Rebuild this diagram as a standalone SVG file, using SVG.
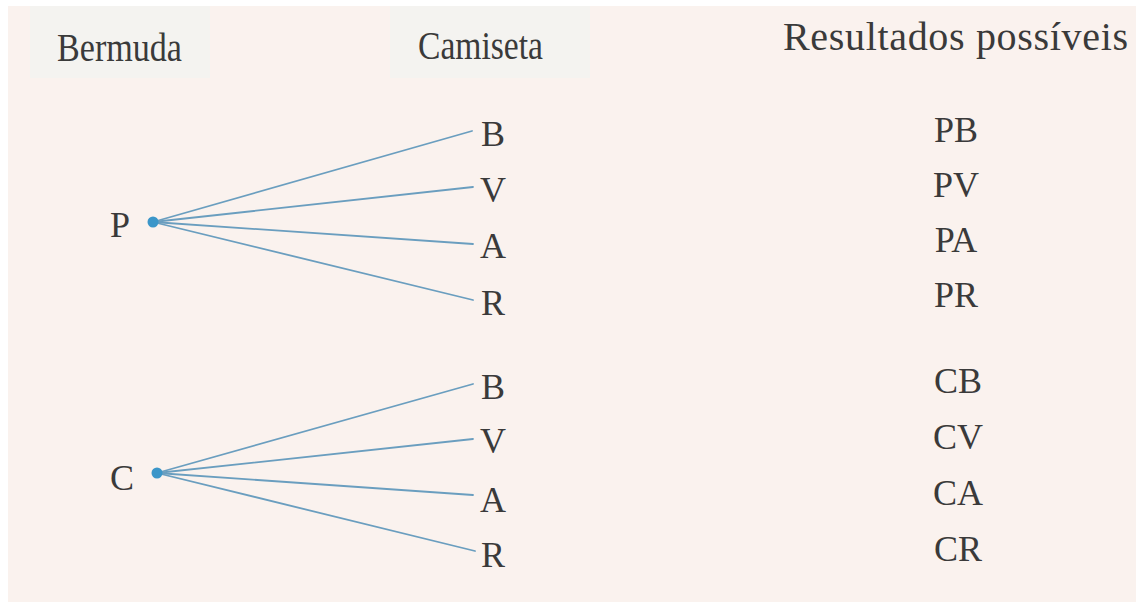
<svg xmlns="http://www.w3.org/2000/svg" width="1136" height="602" viewBox="0 0 1136 602">
  <style>
    .lbl { font-family: "Liberation Serif", "DejaVu Serif", serif; fill: #3a3a3a; }
    .head { font-size: 40px; }
    .leaf { font-size: 36px; }
    .res { font-size: 36px; text-anchor: middle; }
    .branch { stroke: #6a9ebf; stroke-width: 1.8; fill: none; stroke-linecap: round; }
    .dot { fill: #3b96c9; }
  </style>

  <!-- paper -->
  <rect x="0" y="0" width="1136" height="602" fill="#ffffff"/>
  <rect x="8" y="6" width="1128" height="596" fill="#faf2ee"/>
  <rect x="30" y="6" width="180" height="72" fill="#f2f3f0" opacity="0.75"/>
  <rect x="390" y="6" width="200" height="72" fill="#f2f3f0" opacity="0.75"/>

  <!-- column headings -->
  <g id="headings">
    <text class="lbl head" x="57" y="61" textLength="125" lengthAdjust="spacingAndGlyphs">Bermuda</text>
    <text class="lbl head" x="418" y="59" textLength="125" lengthAdjust="spacingAndGlyphs">Camiseta</text>
    <text class="lbl head" x="783" y="50" font-size="38" textLength="345" lengthAdjust="spacing">Resultados possíveis</text>
  </g>

  <!-- branches -->
  <g id="connectors">
    <line class="branch" x1="153" y1="222" x2="472" y2="131"/>
    <line class="branch" x1="153" y1="222" x2="473" y2="187"/>
    <line class="branch" x1="153" y1="222" x2="473" y2="244"/>
    <line class="branch" x1="153" y1="222" x2="473" y2="300"/>
    <line class="branch" x1="157" y1="473" x2="473" y2="384"/>
    <line class="branch" x1="157" y1="473" x2="473" y2="439"/>
    <line class="branch" x1="157" y1="473" x2="473" y2="495"/>
    <line class="branch" x1="157" y1="473" x2="475" y2="551"/>
  </g>

  <!-- first choice: P -->
  <g id="node-P">
    <text class="lbl leaf" x="110" y="237">P</text>
    <circle class="dot" cx="153" cy="222" r="5.5"/>
  </g>
  <g id="node-P-B"><text class="lbl leaf" x="481" y="146">B</text></g>
  <g id="node-P-V"><text class="lbl leaf" x="480" y="202">V</text></g>
  <g id="node-P-A"><text class="lbl leaf" x="480" y="258">A</text></g>
  <g id="node-P-R"><text class="lbl leaf" x="481" y="315">R</text></g>

  <!-- first choice: C -->
  <g id="node-C">
    <text class="lbl leaf" x="110" y="490">C</text>
    <circle class="dot" cx="157" cy="473" r="5.5"/>
  </g>
  <g id="node-C-B"><text class="lbl leaf" x="481" y="399">B</text></g>
  <g id="node-C-V"><text class="lbl leaf" x="480" y="453">V</text></g>
  <g id="node-C-A"><text class="lbl leaf" x="480" y="512">A</text></g>
  <g id="node-C-R"><text class="lbl leaf" x="481" y="567">R</text></g>

  <!-- outcomes -->
  <g id="outcomes">
    <text class="lbl res" x="956" y="142">PB</text>
    <text class="lbl res" x="956" y="197">PV</text>
    <text class="lbl res" x="956" y="252">PA</text>
    <text class="lbl res" x="956" y="307">PR</text>
    <text class="lbl res" x="958" y="393">CB</text>
    <text class="lbl res" x="958" y="449">CV</text>
    <text class="lbl res" x="958" y="505">CA</text>
    <text class="lbl res" x="958" y="561">CR</text>
  </g>
</svg>
